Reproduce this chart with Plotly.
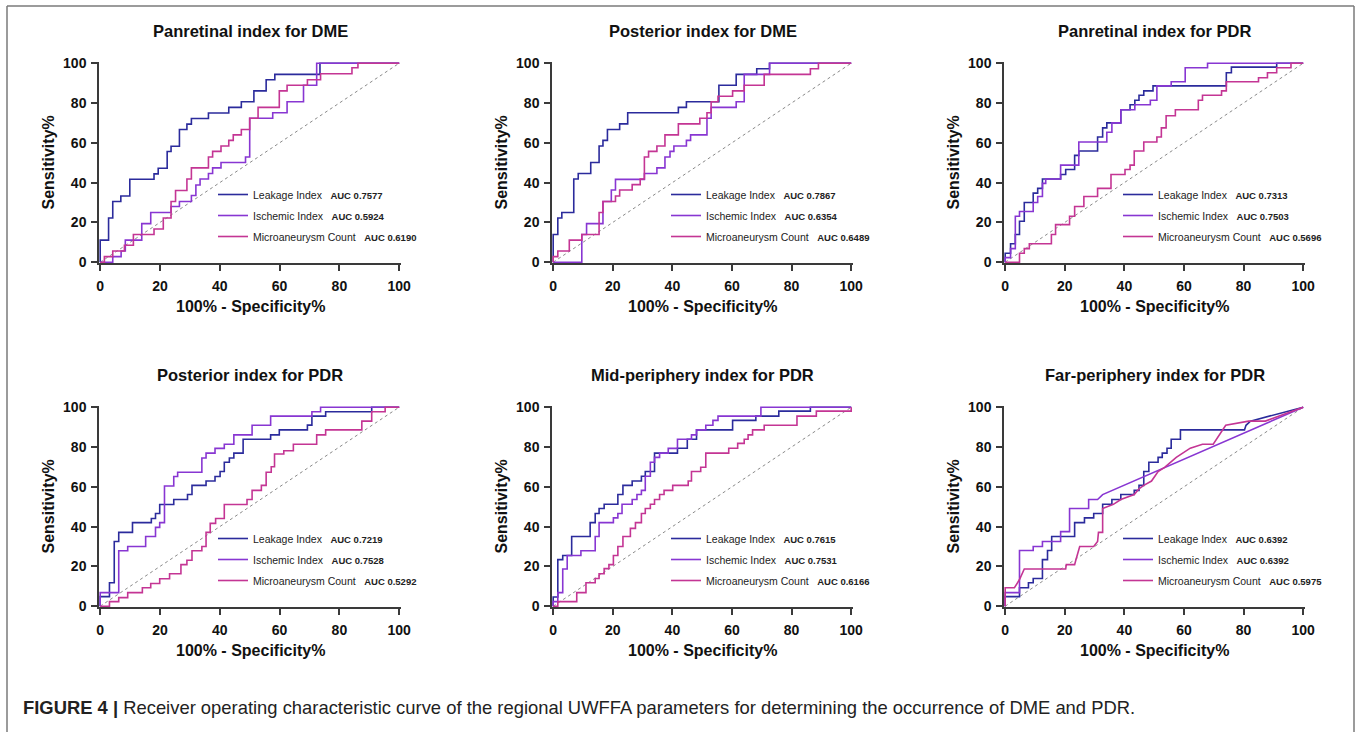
import plotly.graph_objects as go

# ---------------- data ----------------
titles = ["Panretinal index for DME", "Posterior index for DME", "Panretinal index for PDR",
          "Posterior index for PDR", "Mid-periphery index for PDR", "Far-periphery index for PDR"]
series_names = ["Leakage Index", "Ischemic Index", "Microaneurysm Count"]
auc_leak = ["0.7577", "0.7867", "0.7313", "0.7219", "0.7615", "0.6392"]
auc_isch = ["0.5924", "0.6354", "0.7503", "0.7528", "0.7531", "0.6392"]
auc_micro = ["0.6190", "0.6489", "0.5696", "0.5292", "0.6166", "0.5975"]
tick_vals = [0, 20, 40, 60, 80, 100]
diag = [0, 100]

# Panretinal DME
pan_dme_leak_x = [0, 0, 2.8, 4.2, 6.9, 9.9, 18.0, 19.4, 22.4, 23.7, 26.5, 29.0, 30.5, 36.2, 43.0, 47.2, 51.4, 55.5, 58.4, 73.5, 100]
pan_dme_leak_y = [0, 11.1, 22.2, 30.5, 33.3, 41.7, 44.4, 47.2, 55.6, 58.3, 66.7, 69.4, 72.2, 75.0, 77.8, 80.6, 86.1, 91.7, 94.4, 100, 100]
pan_dme_isch_x = [0, 4.2, 7.0, 8.4, 13.9, 16.9, 23.7, 26.5, 30.5, 32.0, 33.4, 36.2, 37.6, 40.4, 48.6, 50.0, 57.7, 62.5, 68.0, 72.4, 100]
pan_dme_isch_y = [0, 2.8, 5.6, 11.1, 19.4, 25.0, 28.0, 30.5, 33.5, 38.8, 41.8, 44.6, 47.4, 50.1, 52.9, 72.3, 75.1, 80.6, 88.9, 100, 100]
pan_dme_micro_x = [0, 1.4, 4.2, 8.1, 11.1, 18.0, 21.1, 23.7, 25.2, 29.0, 30.5, 36.2, 37.6, 40.4, 43.0, 44.5, 47.2, 50.0, 52.8, 59.9, 62.5, 69.3, 73.7, 84.2, 86.2, 100]
pan_dme_micro_y = [0, 2.8, 5.6, 8.5, 13.9, 16.7, 22.2, 30.5, 36.0, 41.8, 47.4, 52.9, 55.7, 58.4, 61.2, 64.0, 66.7, 72.3, 77.8, 86.1, 88.9, 91.7, 94.7, 97.7, 100, 100]

# Posterior DME
post_dme_leak_x = [0, 0, 1.55, 2.9, 6.9, 8.4, 12.6, 15.4, 16.7, 18.2, 22.3, 25.0, 42.0, 44.7, 55.6, 61.4, 68.3, 72.6, 100]
post_dme_leak_y = [0, 13.9, 22.2, 25.0, 41.8, 44.6, 50.1, 58.4, 61.2, 66.7, 69.5, 75.1, 77.8, 80.6, 88.9, 94.4, 97.2, 100, 100]
post_dme_isch_x = [0, 9.6, 11.2, 16.7, 19.5, 20.9, 30.6, 34.8, 37.5, 39.2, 40.5, 44.7, 46.1, 51.6, 53.0, 61.4, 64.1, 72.6, 100]
post_dme_isch_y = [0, 13.9, 19.4, 30.5, 36.3, 41.6, 44.6, 47.4, 52.9, 55.7, 58.4, 61.2, 64.0, 72.3, 77.8, 80.6, 94.4, 100, 100]
post_dme_micro_x = [0, 0, 1.55, 5.4, 9.6, 15.4, 16.7, 20.9, 22.3, 26.5, 29.2, 30.6, 32.0, 34.8, 37.5, 42.0, 49.2, 51.6, 53.0, 55.3, 60.2, 64.1, 70.8, 86.3, 89.0, 100]
post_dme_micro_y = [0, 2.8, 5.6, 11.1, 13.9, 25.0, 30.5, 33.3, 36.3, 39.0, 41.8, 52.9, 55.7, 58.4, 64.0, 69.5, 72.3, 75.1, 80.6, 83.4, 86.1, 88.9, 94.4, 97.2, 100, 100]

# Panretinal PDR
pan_pdr_leak_x = [0, 0, 1.8, 3.4, 4.8, 6.4, 9.4, 10.9, 12.5, 18.6, 20.3, 23.3, 24.7, 31.0, 32.7, 34.1, 38.8, 41.9, 43.5, 44.9, 46.5, 49.6, 74.2, 75.9, 91.1, 100]
pan_pdr_leak_y = [0, 4.5, 9.3, 13.9, 20.6, 30.0, 34.7, 37.1, 41.8, 44.1, 46.6, 53.7, 55.9, 62.9, 67.5, 70.0, 76.6, 79.1, 81.4, 83.9, 86.1, 88.6, 95.2, 98.0, 100, 100]
pan_pdr_isch_x = [0, 0, 1.8, 3.4, 4.8, 9.4, 10.9, 12.5, 13.6, 18.6, 24.7, 34.1, 35.8, 38.8, 43.5, 48.7, 50.9, 55.7, 60.4, 67.9, 100]
pan_pdr_isch_y = [0, 2.3, 6.8, 23.1, 25.5, 30.0, 33.0, 39.6, 41.8, 48.8, 60.4, 65.3, 70.0, 76.6, 79.1, 81.4, 88.6, 90.7, 97.7, 100, 100]
pan_pdr_micro_x = [0, 4.8, 6.4, 8.1, 15.5, 16.9, 21.6, 23.3, 26.4, 31.0, 35.5, 40.2, 41.9, 43.3, 46.5, 50.9, 52.4, 54.0, 57.1, 64.8, 66.2, 72.6, 74.2, 85.0, 88.0, 91.1, 95.9, 100]
pan_pdr_micro_y = [0, 4.5, 6.8, 9.3, 13.9, 18.9, 23.1, 28.0, 33.0, 37.1, 44.1, 46.6, 48.8, 55.9, 60.4, 62.9, 67.5, 73.6, 76.6, 81.4, 83.9, 86.1, 90.7, 92.7, 95.2, 97.7, 100, 100]

# Posterior PDR
post_pdr_leak_x = [0, 0, 3.1, 4.7, 6.2, 10.8, 17.1, 18.5, 19.9, 24.6, 29.2, 30.7, 35.4, 38.4, 40.1, 41.5, 43.2, 44.7, 47.8, 57.0, 59.9, 69.3, 70.8, 75.4, 90.8, 100]
post_pdr_leak_y = [0, 4.8, 11.8, 32.5, 37.1, 42.0, 44.1, 46.6, 51.1, 53.6, 56.1, 60.7, 62.9, 65.2, 67.7, 72.3, 74.5, 76.9, 83.9, 86.1, 88.6, 91.0, 95.5, 97.7, 100, 100]
post_pdr_isch_x = [0, 0, 6.2, 9.2, 15.2, 18.5, 19.9, 21.5, 24.6, 25.9, 34.0, 35.4, 38.4, 41.5, 44.7, 50.8, 57.0, 70.8, 73.7, 100]
post_pdr_isch_y = [0, 6.8, 27.9, 30.0, 35.0, 39.6, 42.0, 60.4, 65.2, 67.3, 74.5, 76.9, 79.3, 81.4, 86.1, 90.9, 95.5, 97.7, 100, 100]
post_pdr_micro_x = [0, 3.1, 6.2, 9.2, 14.1, 16.9, 19.9, 23.2, 27.0, 29.0, 30.7, 34.0, 35.4, 36.8, 38.6, 41.5, 49.1, 50.8, 53.9, 55.5, 57.2, 58.3, 61.4, 64.6, 72.4, 75.4, 87.5, 90.8, 95.3, 100]
post_pdr_micro_y = [0, 2.3, 4.3, 6.8, 9.3, 11.4, 13.8, 16.3, 20.9, 23.1, 27.9, 30.0, 37.1, 41.6, 44.1, 51.1, 53.6, 58.2, 60.7, 67.3, 70.1, 76.5, 78.1, 81.4, 86.1, 88.6, 93.0, 97.7, 100, 100]

# Mid-periphery PDR
mid_pdr_leak_x = [0, 0, 1.55, 3.2, 6.2, 12.4, 14.1, 15.4, 17.1, 21.7, 23.4, 26.5, 29.6, 30.9, 34.0, 41.7, 45.0, 48.1, 60.2, 68.0, 75.7, 86.3, 100]
mid_pdr_leak_y = [0, 4.6, 23.4, 25.5, 35.0, 42.0, 46.6, 49.1, 51.2, 56.1, 60.7, 62.9, 65.3, 67.7, 76.9, 79.4, 83.9, 88.6, 93.4, 95.5, 98.0, 100, 100]
mid_pdr_isch_x = [0, 0, 1.55, 3.2, 4.7, 9.3, 14.1, 15.4, 20.2, 21.7, 23.1, 26.5, 28.1, 29.6, 30.9, 32.6, 34.0, 35.7, 38.6, 41.7, 46.4, 48.1, 51.2, 53.6, 55.3, 69.7, 100]
mid_pdr_isch_y = [0, 2.3, 6.8, 18.7, 25.5, 27.9, 35.0, 42.0, 44.4, 46.6, 51.2, 53.6, 56.1, 58.2, 65.3, 72.3, 74.8, 76.9, 79.3, 83.9, 86.1, 88.6, 90.9, 93.4, 95.5, 100, 100]
mid_pdr_micro_x = [0, 1.55, 7.9, 11.0, 14.1, 15.4, 17.1, 18.7, 20.2, 21.7, 23.4, 25.9, 27.6, 29.6, 30.9, 32.6, 34.0, 35.7, 37.2, 40.1, 45.3, 46.4, 49.5, 51.2, 58.9, 61.9, 64.1, 65.4, 66.9, 70.8, 81.8, 88.3, 100]
mid_pdr_micro_y = [0, 2.3, 6.8, 11.8, 13.9, 16.3, 18.9, 20.9, 25.5, 30.0, 35.0, 39.1, 42.0, 46.6, 49.1, 51.2, 53.6, 56.1, 58.2, 60.7, 62.9, 67.7, 69.8, 76.9, 79.4, 81.8, 83.9, 86.1, 88.6, 90.9, 95.5, 98.0, 100]

# Far-periphery PDR (vertex lists, drawn as straight segments)
far_pdr_leak_x = [0, 0, 4.8, 4.8, 7.8, 7.8, 9.4, 9.4, 12.5, 12.5, 14.2, 14.2, 15.6, 15.6, 23.3, 23.3, 26.6, 26.6, 29.7, 29.7, 32.7, 32.7, 35.8, 35.8, 38.8, 38.8, 43.3, 43.3, 44.9, 44.9, 46.5, 46.5, 48.2, 48.2, 51.3, 51.3, 52.7, 52.7, 54.3, 54.3, 55.7, 55.7, 58.8, 58.8, 80.3, 80.8, 82.3, 100]
far_pdr_leak_y = [0, 4.8, 4.8, 9.3, 9.3, 11.8, 11.8, 13.9, 13.9, 23.4, 23.4, 28.0, 28.0, 35.0, 35.0, 42.0, 42.0, 44.4, 44.4, 46.6, 46.6, 51.2, 51.2, 53.6, 53.6, 56.1, 56.1, 58.2, 58.2, 60.7, 60.7, 67.7, 67.7, 72.3, 72.3, 74.8, 74.8, 76.9, 76.9, 79.4, 79.4, 83.9, 83.9, 88.6, 88.6, 90.9, 93.0, 100]
far_pdr_isch_x = [0, 0, 4.8, 4.8, 9.4, 9.4, 12.5, 12.5, 18.6, 18.6, 21.6, 21.6, 28.0, 28.0, 31.0, 32.7, 100]
far_pdr_isch_y = [0, 6.8, 6.8, 28.0, 28.0, 30.0, 30.0, 32.5, 32.5, 37.5, 37.5, 49.1, 49.1, 53.6, 53.6, 56.1, 100]
far_pdr_micro_x = [0, 0, 3.1, 4.8, 6.4, 20.3, 20.5, 23.3, 23.6, 25.0, 29.7, 31.0, 31.3, 32.7, 32.7, 36.3, 38.8, 43.3, 44.9, 46.5, 49.1, 51.3, 53.5, 57.4, 62.1, 66.2, 69.8, 74.0, 81.7, 87.3, 100]
far_pdr_micro_y = [0, 9.3, 9.3, 13.4, 18.7, 18.7, 20.9, 20.9, 22.6, 30.0, 30.0, 32.5, 37.1, 37.1, 49.1, 51.2, 53.6, 56.1, 59.0, 60.7, 62.9, 67.7, 69.8, 74.8, 79.4, 81.4, 81.4, 90.9, 93.0, 93.0, 100]

panel_curves = [
    [(pan_dme_leak_x, pan_dme_leak_y), (pan_dme_isch_x, pan_dme_isch_y), (pan_dme_micro_x, pan_dme_micro_y)],
    [(post_dme_leak_x, post_dme_leak_y), (post_dme_isch_x, post_dme_isch_y), (post_dme_micro_x, post_dme_micro_y)],
    [(pan_pdr_leak_x, pan_pdr_leak_y), (pan_pdr_isch_x, pan_pdr_isch_y), (pan_pdr_micro_x, pan_pdr_micro_y)],
    [(post_pdr_leak_x, post_pdr_leak_y), (post_pdr_isch_x, post_pdr_isch_y), (post_pdr_micro_x, post_pdr_micro_y)],
    [(mid_pdr_leak_x, mid_pdr_leak_y), (mid_pdr_isch_x, mid_pdr_isch_y), (mid_pdr_micro_x, mid_pdr_micro_y)],
    [(far_pdr_leak_x, far_pdr_leak_y), (far_pdr_isch_x, far_pdr_isch_y), (far_pdr_micro_x, far_pdr_micro_y)],
]
panel_shapes = ["hv", "hv", "hv", "hv", "hv", "linear"]
panel_aucs = list(zip(auc_leak, auc_isch, auc_micro))

# ---------------- style ----------------
W, H = 1357, 732
FONT = "Liberation Sans, Arial, Helvetica, sans-serif"
COLORS = ["#2b2b9c", "#8836d2", "#c43594"]
AX = "#3a3a3a"
cols_px = [(99, 401), (552, 853), (1004, 1305)]
rows_px = [(62, 263), (406, 607)]

def px(x):
    return x / W

def py(y):
    return 1 - y / H

fig = go.Figure()
annotations = []
layout_axes = {}

for i in range(6):
    r, c = divmod(i, 3)
    k = "" if i == 0 else str(i + 1)
    x0, x1 = cols_px[c]
    y0, y1 = rows_px[r]
    legname = "legend" if i == 0 else f"legend{i + 1}"

    fig.add_trace(go.Scatter(x=diag, y=diag, mode="lines", xaxis="x" + k, yaxis="y" + k,
                             line=dict(color="#8a8a8a", width=1, dash="dot"),
                             showlegend=False, hoverinfo="skip"))
    for j in range(3):
        cx, cy = panel_curves[i][j]
        fig.add_trace(go.Scatter(
            x=cx, y=cy, mode="lines", xaxis="x" + k, yaxis="y" + k,
            line=dict(color=COLORS[j], width=1.6, shape=panel_shapes[i]),
            name=f"{series_names[j]}&nbsp;&nbsp;<span style='font-size:9.5px'>&nbsp;<b>AUC {panel_aucs[i][j]}</b></span>",
            legend=legname, legendgroup=f"g{i}_{j}"))

    common = dict(showgrid=False, zeroline=False, showline=True, linecolor=AX, linewidth=1.5,
                  ticks="outside", ticklen=6, tickwidth=1.5, tickcolor=AX, automargin=False,
                  tickvals=tick_vals, range=[-0.4, 100.6], fixedrange=True,
                  tickfont=dict(family=FONT, size=14, color="#111", weight="bold"))
    layout_axes["xaxis" + k] = dict(common, domain=[px(x0), px(x1)], anchor="y" + k, ticklabelstandoff=3)
    layout_axes["yaxis" + k] = dict(common, domain=[py(y1), py(y0)], anchor="x" + k, ticklabelstandoff=2)

    layout_axes[legname] = dict(x=px(x0 + 114), y=py(y0 + 118), xanchor="left", yanchor="top",
                                xref="paper", yref="paper", bgcolor="rgba(0,0,0,0)",
                                font=dict(family=FONT, size=10.5, color="#222"),
                                tracegroupgap=2, traceorder="grouped", itemwidth=30)

    cxm = (x0 + x1) / 2
    annotations.append(dict(text=f"<b>{titles[i]}</b>", x=px(cxm), y=py(y0 - 31), xref="paper", yref="paper",
                            showarrow=False, xanchor="center", yanchor="middle",
                            font=dict(family=FONT, size=16.5, color="#111")))
    annotations.append(dict(text="<b>100% - Specificity%</b>", x=px(cxm), y=py(y1 + 43), xref="paper", yref="paper",
                            showarrow=False, xanchor="center", yanchor="middle",
                            font=dict(family=FONT, size=16, color="#111")))
    annotations.append(dict(text="<b>Sensitivity%</b>", x=px(x0 - 51), y=py((y0 + y1) / 2), xref="paper", yref="paper",
                            showarrow=False, xanchor="center", yanchor="middle", textangle=-90,
                            font=dict(family=FONT, size=16, color="#111")))

annotations.append(dict(text="<b>FIGURE 4 |</b> Receiver operating characteristic curve of the regional UWFFA parameters for determining the occurrence of DME and PDR.",
                        x=px(21), y=py(707), xref="paper", yref="paper", showarrow=False,
                        xanchor="left", yanchor="middle", font=dict(family=FONT, size=18.4, color="#222")))

frame = dict(color="#7a7a7a", width=1.5)
shapes = [
    dict(type="line", xref="paper", yref="paper", x0=px(7), x1=px(7), y0=py(6), y1=0, line=frame),
    dict(type="line", xref="paper", yref="paper", x0=px(7), x1=px(1354), y0=py(6), y1=py(6), line=frame),
    dict(type="line", xref="paper", yref="paper", x0=px(1354), x1=px(1354), y0=py(6), y1=0, line=frame),
]

fig.update_layout(width=W, height=H, margin=dict(l=0, r=0, t=0, b=0, pad=0, autoexpand=False),
                  paper_bgcolor="white", plot_bgcolor="white",
                  font=dict(family=FONT, color="#111"),
                  annotations=annotations, shapes=shapes, **layout_axes)

fig.write_html("out.html", config={"displayModeBar": False},
               post_script="document.body.style.margin='0';document.body.style.overflow='hidden';")
